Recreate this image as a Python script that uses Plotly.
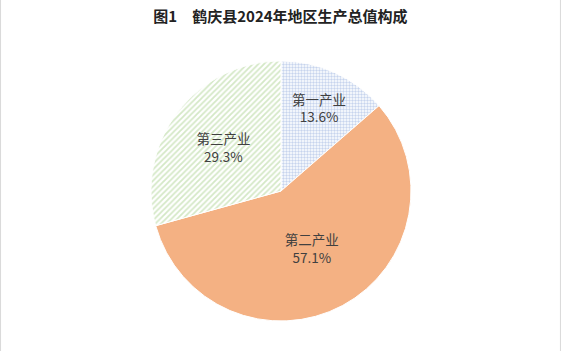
import plotly.graph_objects as go

categories = ["第一产业", "第二产业", "第三产业"]
shares = [13.6, 57.1, 29.3]
title_text = "图1　鹤庆县2024年地区生产总值构成"

W, H = 561, 351
cx, cy, r = 281, 191, 130

fig = go.Figure()
fig.add_trace(go.Pie(
    labels=categories,
    values=shares,
    sort=False,
    direction="clockwise",
    rotation=0,
    domain=dict(x=[(cx - r) / W, (cx + r) / W], y=[(H - cy - r) / H, (H - cy + r) / H]),
    marker=dict(
        colors=["#FFFFFF", "#F4B183", "#FFFFFF"],
        line=dict(color="#FFFFFF", width=1),
        pattern=dict(
            shape=[".", "", "/"],
            fgcolor=["#8FAADC", "#F4B183", "#A9D18E"],
            bgcolor=["#FFFFFF", "#F4B183", "#FFFFFF"],
            size=[3, 8, 4],
            solidity=[0.5, 0.5, 0.45],
            fillmode="overlay",
        ),
    ),
    texttemplate="%{label}<br>%{value:.1f}%",
    textposition="inside",
    insidetextorientation="horizontal",
    textfont=dict(family="Noto Sans CJK SC", size=13.5, color="#404040"),
    showlegend=False,
    hoverinfo="label+value",
))

fig.update_layout(
    width=W, height=H,
    margin=dict(l=0, r=0, t=0, b=0),
    paper_bgcolor="white",
    plot_bgcolor="white",
    title=dict(
        text="<b>" + title_text + "</b>",
        x=0.5, xanchor="center", y=1 - 17 / H, yanchor="middle",
        font=dict(family="Noto Sans CJK SC", size=15, color="#222222"),
    ),
    shapes=[
        dict(type="line", xref="paper", yref="paper", x0=0.001, x1=0.001, y0=0, y1=1,
             line=dict(color="#D9D9D9", width=1)),
        dict(type="line", xref="paper", yref="paper", x0=0.999, x1=0.999, y0=0, y1=1,
             line=dict(color="#D9D9D9", width=1)),
    ],
)

fig.write_html("out.html")
